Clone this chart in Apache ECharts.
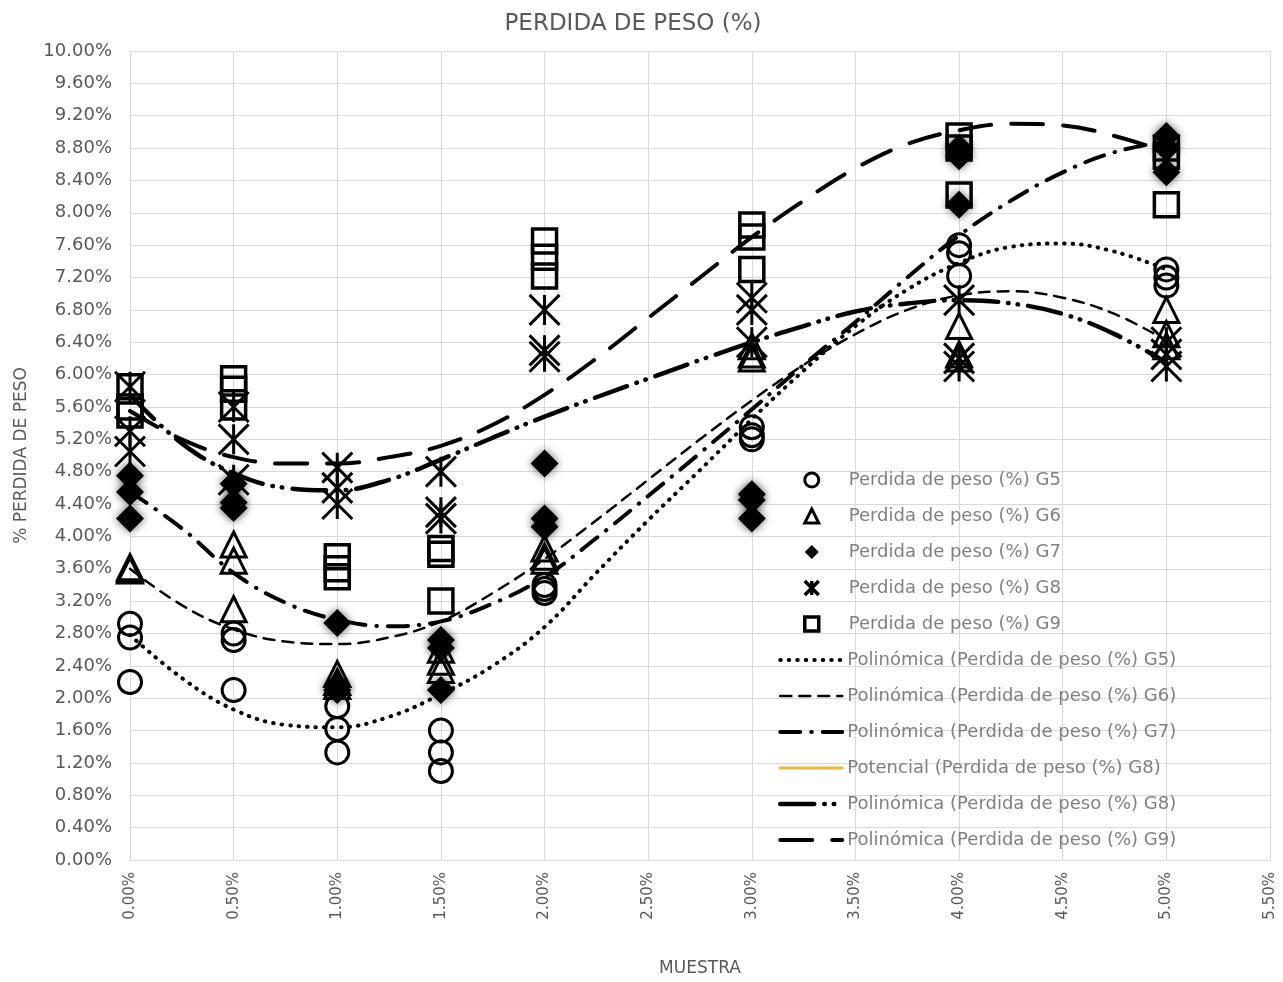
<!DOCTYPE html>
<html>
<head>
<meta charset="utf-8">
<title>Perdida de peso (%)</title>
<script src="https://cdn.jsdelivr.net/npm/echarts@6/dist/echarts.min.js"></script>
<style>
  html, body { margin: 0; padding: 0; background: #fff; }
  #chart { width: 1283px; height: 982px; }
</style>
</head>
<body>
<div id="chart"></div>
<script>
  // muestra (%) de cada lectura, tres repeticiones por dosis
  var muestras = [0, 0, 0, 0.5, 0.5, 0.5, 1, 1, 1, 1.5, 1.5, 1.5, 2, 2, 2, 3, 3, 3, 4, 4, 4, 5, 5, 5]

  // perdida de peso (%) por grupo
  var g5 = [2.92, 2.75, 2.2, 2.8, 2.72, 2.1, 1.9, 1.62, 1.33, 1.6, 1.33, 1.1, 3.4, 3.35, 3.3, 5.35, 5.25, 5.2, 7.6, 7.5, 7.22, 7.3, 7.2, 7.1]
  var g6 = [3.62, 3.6, 3.58, 3.9, 3.7, 3.1, 2.3, 2.2, 2.15, 2.6, 2.45, 2.35, 3.85, 3.75, 3.7, 6.35, 6.25, 6.2, 6.6, 6.25, 6.2, 6.8, 6.5, 6.35]
  var g7 = [4.75, 4.55, 4.22, 4.65, 4.42, 4.35, 2.93, 2.15, 2.1, 2.72, 2.62, 2.1, 4.9, 4.22, 4.12, 4.52, 4.45, 4.22, 8.8, 8.7, 8.1, 8.95, 8.8, 8.5]
  var g8 = [5.85, 5.3, 5.05, 5.6, 5.2, 4.7, 4.85, 4.6, 4.4, 4.8, 4.3, 4.22, 6.8, 6.3, 6.22, 6.95, 6.8, 6.4, 6.92, 6.2, 6.1, 6.4, 6.25, 6.1]
  var g9 = [5.85, 5.6, 5.5, 5.95, 5.82, 5.6, 3.75, 3.6, 3.5, 3.85, 3.78, 3.2, 7.65, 7.45, 7.22, 7.85, 7.7, 7.3, 8.95, 8.8, 8.22, 8.8, 8.7, 8.1]

  // lineas de tendencia
  var tendX = [0, 0.25, 0.5, 0.75, 1, 1.25, 1.5, 1.75, 2, 2.25, 2.5, 2.75, 3, 3.25, 3.5, 3.75, 4, 4.25, 4.5, 4.75, 5]
  var polG5 = [2.78, 2.25, 1.86, 1.67, 1.64, 1.77, 2.05, 2.4, 2.88, 3.55, 4.2, 4.82, 5.45, 6.05, 6.6, 7.05, 7.38, 7.58, 7.62, 7.52, 7.3]
  var polG6 = [3.6, 3.15, 2.85, 2.7, 2.67, 2.75, 2.95, 3.3, 3.72, 4.2, 4.7, 5.2, 5.68, 6.12, 6.5, 6.8, 6.98, 7.03, 6.95, 6.75, 6.42]
  var polG7 = [4.55, 4.1, 3.55, 3.18, 2.97, 2.89, 2.95, 3.17, 3.5, 3.98, 4.5, 5.03, 5.57, 6.12, 6.65, 7.2, 7.72, 8.15, 8.5, 8.75, 8.88]
  var polG8 = [5.75, 5.15, 4.78, 4.6, 4.57, 4.7, 4.95, 5.22, 5.48, 5.72, 5.95, 6.18, 6.4, 6.6, 6.78, 6.88, 6.92, 6.88, 6.75, 6.5, 6.15]
  var polG9 = [5.55, 5.2, 4.98, 4.9, 4.9, 4.98, 5.12, 5.38, 5.75, 6.2, 6.7, 7.2, 7.7, 8.15, 8.55, 8.85, 9.02, 9.1, 9.08, 8.95, 8.75]

  var nombresPuntos = [
    'Perdida de peso (%) G5',
    'Perdida de peso (%) G6',
    'Perdida de peso (%) G7',
    'Perdida de peso (%) G8',
    'Perdida de peso (%) G9'
  ]
  var nombresTend = [
    'Polinómica (Perdida de peso (%) G5)',
    'Polinómica (Perdida de peso (%) G6)',
    'Polinómica (Perdida de peso (%) G7)',
    'Potencial (Perdida de peso (%) G8)',
    'Polinómica (Perdida de peso (%) G8)',
    'Polinómica (Perdida de peso (%) G9)'
  ]

  var FONT = '"DejaVu Sans", "Open Sans", sans-serif'
  var GRIS = '#595959'
  var asterisco = 'path://M0,0L20,20M20,0L0,20M10,0L10,20'

  function pares(xs, ys) {
    return ys.map(function(y, i) { return [xs[i], y] })
  }

  function puntos(name, data, symbol, size, style) {
    style.opacity = 1
    return {
      name: name,
      type: 'scatter',
      symbol: symbol,
      symbolSize: size,
      data: pares(muestras, data),
      itemStyle: style,
      z: 2
    }
  }

  function tendencia(name, data, color, width, dash) {
    return {
      name: name,
      type: 'line',
      symbol: 'none',
      smooth: 0.4,
      data: data ? pares(tendX, data) : [],
      lineStyle: { color: color, width: width, type: dash, cap: 'round' },
      // sin marcador en la leyenda
      itemStyle: { color: 'rgba(0,0,0,0)' },
      z: 3
    }
  }

  function hueco(w) {
    return { color: 'rgba(255,255,255,0)', borderColor: '#000', borderWidth: w }
  }

  var textoLeyenda = { fontFamily: FONT, fontSize: 18, lineHeight: 20, color: '#808080' }

  var chart = echarts.init(document.getElementById('chart'))
  chart.setOption({
    animation: false,
    textStyle: { fontFamily: FONT },
    title: {
      text: 'PERDIDA DE PESO (%)',
      left: 628,
      top: 8,
      textAlign: 'center',
      textStyle: { fontFamily: FONT, fontSize: 23, fontWeight: 'normal', color: GRIS }
    },
    grid: { left: 130, right: 13, top: 51, bottom: 121 },
    legend: [
      {
        orient: 'vertical',
        left: 803,
        top: 470,
        padding: 0,
        itemWidth: 14,
        itemHeight: 14,
        itemGap: 16,
        textStyle: Object.assign({ padding: [0, 0, 0, 25] }, textoLeyenda),
        data: [
          { name: nombresPuntos[0], itemStyle: { borderWidth: 3 } },
          { name: nombresPuntos[1], itemStyle: { borderWidth: 3 } },
          { name: nombresPuntos[2], itemStyle: { borderWidth: 0 } },
          { name: nombresPuntos[3], itemStyle: { borderWidth: 3.5 } },
          { name: nombresPuntos[4], itemStyle: { borderWidth: 3.5 } }
        ]
      },
      {
        orient: 'vertical',
        left: 778,
        top: 650,
        padding: 0,
        itemWidth: 62,
        itemHeight: 14,
        itemGap: 16,
        lineStyle: { width: 'inherit' },
        textStyle: textoLeyenda,
        data: nombresTend
      }
    ],
    xAxis: {
      type: 'value',
      min: 0,
      max: 5.5,
      interval: 0.5,
      name: 'MUESTRA',
      nameLocation: 'middle',
      nameGap: 100,
      nameTextStyle: { fontFamily: FONT, fontSize: 17, color: GRIS },
      axisLine: { show: true, lineStyle: { color: '#d9d9d9' } },
      axisTick: { show: false },
      axisLabel: {
        rotate: 90,
        margin: 12,
        fontSize: 15,
        color: GRIS,
        formatter: function(v) { return v.toFixed(2) + '%' }
      },
      splitLine: { show: true, lineStyle: { color: '#d9d9d9' } }
    },
    yAxis: {
      type: 'value',
      min: 0,
      max: 10,
      interval: 0.4,
      name: '% PERDIDA DE PESO',
      nameLocation: 'middle',
      nameGap: 100,
      nameRotate: 90,
      nameTextStyle: { fontFamily: FONT, fontSize: 17, color: GRIS },
      axisLine: { show: false },
      axisTick: { show: false },
      axisLabel: {
        margin: 18,
        fontSize: 18,
        color: GRIS,
        formatter: function(v) { return v.toFixed(2) + '%' }
      },
      splitLine: { show: true, lineStyle: { color: '#d9d9d9' } }
    },
    series: [
      puntos(nombresPuntos[0], g5, 'circle', 23, hueco(3)),
      puntos(nombresPuntos[1], g6, 'triangle', 25, hueco(3)),
      puntos(nombresPuntos[2], g7, 'diamond', 28, {
        color: '#000', shadowBlur: 9, shadowColor: 'rgba(0,0,0,0.6)'
      }),
      puntos(nombresPuntos[3], g8, asterisco, 30, {
        color: '#000', borderColor: '#000', borderWidth: 3
      }),
      puntos(nombresPuntos[4], g9, 'rect', 24, hueco(3.5)),
      tendencia(nombresTend[0], polG5, '#000', 4, [0.5, 8]),
      tendencia(nombresTend[1], polG6, '#000', 2.5, [11, 8]),
      tendencia(nombresTend[2], polG7, '#000', 4, [20, 11, 0.5, 11]),
      tendencia(nombresTend[3], null, '#f2b53d', 3, 'solid'),
      tendencia(nombresTend[4], polG8, '#000', 4.5, [34, 10, 0.5, 9, 0.5, 10]),
      tendencia(nombresTend[5], polG9, '#000', 4, [32, 20])
    ]
  })
</script>
</body>
</html>
